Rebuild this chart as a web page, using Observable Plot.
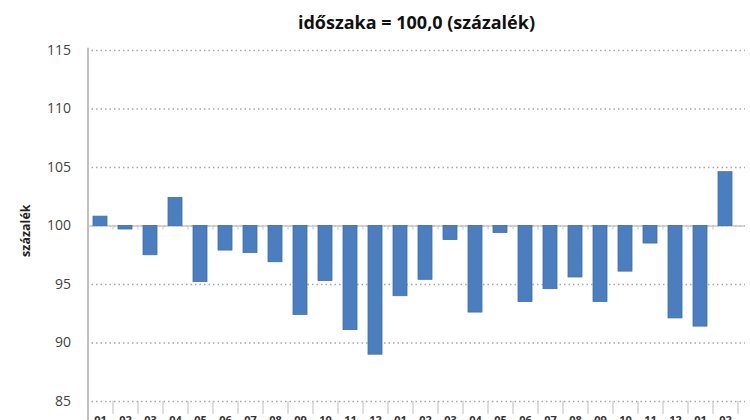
<!DOCTYPE html>
<html>
<head>
<meta charset="utf-8">
<script src="https://cdn.jsdelivr.net/npm/d3@7"></script>
<script src="https://cdn.jsdelivr.net/npm/@observablehq/plot@0.6"></script>
<style>
  html, body { margin: 0; padding: 0; background: #fff; }
</style>
</head>
<body>
<div id="chart"></div>
<script>
const categories = ["c01","c02","c03","c04","c05","c06","c07","c08","c09","c10","c11","c12","c13","c14","c15","c16","c17","c18","c19","c20","c21","c22","c23","c24","c25","c26"];
const tickLabels = ["01","02","03","04","05","06","07","08","09","10","11","12","01","02","03","04","05","06","07","08","09","10","11","12","01","02"];
const values = [100.8, 99.7, 97.5, 102.4, 95.2, 97.9, 97.7, 96.9, 92.4, 95.3, 91.1, 89.0, 94.0, 95.4, 98.8, 92.6, 99.4, 93.5, 94.6, 95.6, 93.5, 96.1, 98.5, 92.1, 91.4, 104.6];
const yTicks = [85, 90, 95, 100, 105, 110, 115];
const title = "időszaka = 100,0 (százalék)";
const yLabel = "százalék";

const data = categories.map((c, i) => ({cat: c, label: tickLabels[i], value: values[i]}));
const half = 12.5;

const chart = Plot.plot({
  width: 750,
  height: 420,
  marginTop: 50,
  marginBottom: 19,
  marginLeft: 87,
  marginRight: 5,
  style: {fontFamily: "Open Sans, sans-serif", background: "#fff"},
  x: {domain: categories, range: [87, 737], paddingInner: 0.44, paddingOuter: 0.22, axis: null},
  y: {domain: [85, 115], axis: null},
  marks: [
    Plot.ruleY(yTicks, {stroke: "#a8a8a8", strokeDasharray: "1.5,3", strokeWidth: 1.4}),
    Plot.ruleY([100], {stroke: "#c8c8c8", strokeWidth: 1.5}),
    Plot.ruleX(categories, {x: d => d, y1: 100, y2: 99.65, dx: -half, stroke: "#c8c8c8"}),
    Plot.ruleX(categories, {x: d => d, y1: 85, y2: 83.9, dx: -half, stroke: "#c8c8c8", strokeWidth: 1.2}),
    Plot.ruleX([categories[categories.length - 1]], {x: d => d, y1: 85, y2: 83.9, dx: half, stroke: "#c8c8c8", strokeWidth: 1.2}),
    Plot.barY(data, {x: "cat", y1: 100, y2: "value", fill: "#4a7ebf", stroke: "#3f6fae", strokeWidth: 0.8}),
    Plot.ruleX([categories[0]], {x: d => d, y1: 115.2, y2: 83, dx: -half, stroke: "#c0c0c0", strokeWidth: 2}),
    Plot.text(yTicks, {x: () => categories[0], y: d => d, text: d => String(d), dx: -(half + 17), textAnchor: "end", fontSize: 14, fill: "#444"}),
    Plot.text(data, {x: "cat", y: () => 83.75, text: "label", lineAnchor: "top", fontSize: 11, fontWeight: "bold", fill: "#333"}),
    Plot.text([yLabel], {x: () => categories[0], y: () => 99.6, text: d => d, rotate: -90, dx: -(half + 62), fontSize: 12.5, fontWeight: "bold", fill: "#222"}),
    Plot.text([title], {frameAnchor: "top", dy: -34, text: d => d, fontSize: 18, fontWeight: "bold", fill: "#111"})
  ]
});
document.getElementById("chart").appendChild(chart);
</script>
</body>
</html>
